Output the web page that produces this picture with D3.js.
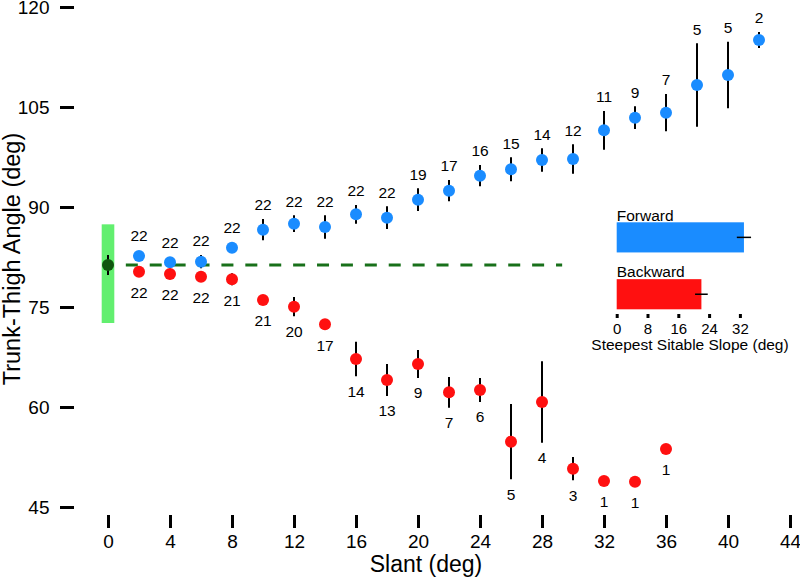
<!DOCTYPE html>
<html><head><meta charset="utf-8">
<script src="https://cdn.jsdelivr.net/npm/d3@7"></script>
<style>
html,body{margin:0;padding:0;background:#fff;}
text{font-family:"Liberation Sans",Arial,Helvetica,sans-serif;fill:#000;}
</style></head>
<body><svg id="chart" width="800" height="577"></svg>
<script>
// ---- data ----
const slantsF = [2,4,6,8,10,12,14,16,18,20,22,24,26,28,30,32,34,36,38,40,42];
const meanF   = [82.65,81.7,81.8,83.9,86.6,87.5,87.0,88.9,88.4,91.1,92.45,94.7,95.65,97.05,97.2,101.5,103.4,104.15,108.3,109.8,115.05];
const seF     = [0.5,0.8,1.0,0.6,1.6,1.25,1.75,1.4,1.7,1.7,1.6,1.6,1.8,1.75,2.2,2.9,1.7,2.8,6.25,5.0,1.2];
const nF      = [22,22,22,22,22,22,22,22,22,19,17,16,15,14,12,11,9,7,5,5,2];

const slantsB = [2,4,6,8,10,12,14,16,18,20,22,24,26,28,30,32,34,36];
const meanB   = [80.3,79.95,79.55,79.15,76.05,75.05,72.4,67.2,64.05,66.45,62.2,62.55,54.8,60.75,50.75,48.9,48.8,53.7];
const seB     = [0.5,0.8,0.8,0.9,0.5,1.45,0.4,2.6,2.4,2.1,2.3,1.8,5.65,6.1,1.75,0,0,0];
const nB      = [22,22,22,21,21,20,17,14,13,9,7,6,5,4,3,1,1,1];

const baseSlant = [0];
const baseMean  = [81.3];
const baseSE    = [1.5];
const baseRange = [72.6, 87.4];
const baseLineSpan = [1.15, 29.3];

const insetCats = ["Forward","Backward"];
const insetVals = [33.05, 22.0];
const insetErr  = [1.85, 1.65];

const yTicks = [45,60,75,90,105,120];
const xTicks = [0,4,8,12,16,20,24,28,32,36,40,44];
const insetTicks = [0,8,16,24,32];

// ---- styles ----
const BLUE = "#1a8cff", RED = "#ff1010", LGREEN = "#62ef6f", DGREEN = "#0f560f", DASH = "#18701a";

const svg = d3.select("#chart");
const x = d3.scaleLinear().domain([0,44]).range([108,790]);
const y = d3.scaleLinear().domain([45,120]).range([507,7]);

// axes
const ya = svg.append("g").attr("transform","translate(74,0)")
  .call(d3.axisLeft(y).tickValues(yTicks).tickSize(14).tickPadding(10.5).tickFormat(d3.format("d")));
ya.select(".domain").remove();
ya.selectAll(".tick line").attr("stroke","#000").attr("stroke-width",3);
ya.selectAll(".tick text").attr("font-size",19).attr("font-family",null);

const xa = svg.append("g").attr("transform","translate(0,515)")
  .call(d3.axisBottom(x).tickValues(xTicks).tickSize(13).tickPadding(6.5).tickFormat(d3.format("d")));
xa.select(".domain").remove();
xa.selectAll(".tick line").attr("stroke","#000").attr("stroke-width",3);
xa.selectAll(".tick text").attr("font-size",19).attr("font-family",null);

svg.append("text").attr("x",426).attr("y",572).attr("text-anchor","middle")
  .attr("font-size",23).text("Slant (deg)");
svg.append("text").attr("transform","translate(20,259) rotate(-90)").attr("text-anchor","middle")
  .attr("font-size",23.5).text("Trunk-Thigh Angle (deg)");

// baseline
svg.append("rect").attr("x",x(baseSlant[0])-6.3).attr("width",12.6)
  .attr("y",y(baseRange[1])).attr("height",y(baseRange[0])-y(baseRange[1]))
  .attr("fill",LGREEN);
svg.append("line").attr("x1",x(baseLineSpan[0])).attr("x2",x(baseLineSpan[1]))
  .attr("y1",y(baseMean[0])).attr("y2",y(baseMean[0]))
  .attr("stroke",DASH).attr("stroke-width",3.2).attr("stroke-dasharray","12,11.9");

function series(slants, means, ses, ns, color, above){
  const g = svg.append("g");
  const data = slants.map((s,i)=>({s, m:means[i], e:ses[i], n:ns[i]}));
  g.selectAll("line.err").data(data.filter(d=>d.e>0)).join("line")
    .attr("x1",d=>x(d.s)).attr("x2",d=>x(d.s))
    .attr("y1",d=>y(d.m+d.e)).attr("y2",d=>y(d.m-d.e))
    .attr("stroke","#000").attr("stroke-width",2);
  g.selectAll("circle").data(data).join("circle")
    .attr("cx",d=>x(d.s)).attr("cy",d=>y(d.m)).attr("r",6).attr("fill",color);
  g.selectAll("text").data(data).join("text")
    .attr("x",d=>x(d.s))
    .attr("y",d=> above ? Math.min(y(d.m+d.e), y(d.m)-6)-14 : Math.max(y(d.m-d.e), y(d.m)+6)+15)
    .attr("dy","0.35em").attr("text-anchor","middle").attr("font-size",15.5)
    .text(d=>d.n);
}
series(slantsF, meanF, seF, nF, BLUE, true);
series(slantsB, meanB, seB, nB, RED, false);

// baseline point
svg.append("line").attr("x1",x(baseSlant[0])).attr("x2",x(baseSlant[0]))
  .attr("y1",y(baseMean[0]+baseSE[0])).attr("y2",y(baseMean[0]-baseSE[0]))
  .attr("stroke","#000").attr("stroke-width",2);
svg.append("circle").attr("cx",x(baseSlant[0])).attr("cy",y(baseMean[0])).attr("r",6).attr("fill",DGREEN);

// inset
const xi = d3.scaleLinear().domain([0,32]).range([616.7,739.9]);
const yi = d3.scaleBand().domain(insetCats).range([222.3,309.3]).paddingInner(0.47).paddingOuter(0);
const inset = svg.append("g");
const idata = insetCats.map((c,i)=>({c, v:insetVals[i], e:insetErr[i]}));
inset.selectAll("rect").data(idata).join("rect")
  .attr("x",xi(0)).attr("y",d=>yi(d.c)).attr("width",d=>xi(d.v)-xi(0)).attr("height",yi.bandwidth())
  .attr("fill",(d,i)=> i===0?BLUE:RED);
inset.selectAll("line.ierr").data(idata).join("line")
  .attr("x1",d=>xi(d.v-d.e)).attr("x2",d=>xi(d.v+d.e))
  .attr("y1",d=>yi(d.c)+yi.bandwidth()/2).attr("y2",d=>yi(d.c)+yi.bandwidth()/2)
  .attr("stroke","#000").attr("stroke-width",1.5);
inset.selectAll("text.lab").data(idata).join("text")
  .attr("x",xi(0)).attr("y",d=>yi(d.c)-1.8).attr("font-size",15.5).text(d=>d.c);
const ia = svg.append("g").attr("transform","translate(0,314)")
  .call(d3.axisBottom(xi).tickValues(insetTicks).tickSize(4).tickPadding(5.3).tickFormat(d3.format("d")));
ia.select(".domain").remove();
ia.selectAll(".tick line").attr("stroke","#000").attr("stroke-width",3);
ia.selectAll(".tick text").attr("font-size",15).attr("font-family",null);
svg.append("text").attr("x",690).attr("y",350).attr("text-anchor","middle")
  .attr("font-size",15.5).text("Steepest Sitable Slope (deg)");
</script></body></html>
